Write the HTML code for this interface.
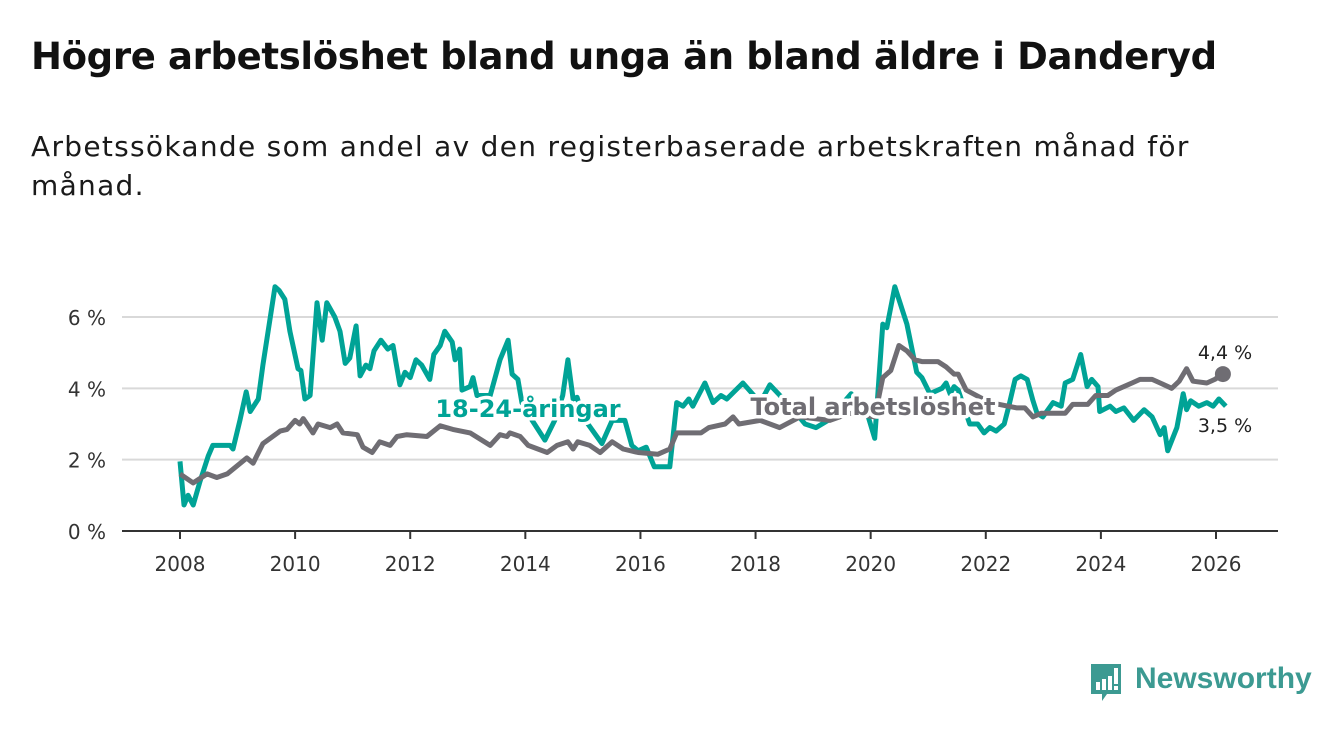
<!DOCTYPE html>
<html><head><meta charset="utf-8"><style>
body{margin:0;background:#fff;width:1340px;height:734px;overflow:hidden;font-family:"DejaVu Sans","Liberation Sans",sans-serif;}
h1{position:absolute;left:31px;top:35px;margin:0;font-size:37px;font-weight:bold;color:#111;letter-spacing:-0.35px;white-space:nowrap}
p.sub{position:absolute;left:31px;top:127px;margin:0;font-size:28px;line-height:39px;color:#1a1a1a;width:1240px;letter-spacing:1.3px}
svg{position:absolute;left:0;top:0}
</style></head><body>
<h1>Högre arbetslöshet bland unga än bland äldre i Danderyd</h1>
<p class="sub">Arbetssökande som andel av den registerbaserade arbetskraften månad för<br>månad.</p>
<svg id="chart" width="1340" height="734"></svg>
<script>
const yTicks=[0,2,4,6];
const xTicks=[2008,2010,2012,2014,2016,2018,2020,2022,2024,2026];
const youthDates=[2008.00,2008.07,2008.14,2008.23,2008.35,2008.49,2008.57,2008.87,2008.92,2009.04,2009.15,2009.22,2009.36,2009.44,2009.65,2009.72,2009.82,2009.91,2010.05,2010.10,2010.17,2010.26,2010.38,2010.47,2010.55,2010.69,2010.78,2010.87,2010.95,2011.06,2011.13,2011.23,2011.30,2011.37,2011.49,2011.61,2011.70,2011.82,2011.91,2012.00,2012.10,2012.20,2012.34,2012.41,2012.52,2012.60,2012.73,2012.78,2012.86,2012.90,2013.04,2013.09,2013.16,2013.39,2013.56,2013.70,2013.77,2013.87,2013.94,2014.08,2014.34,2014.51,2014.65,2014.74,2014.83,2014.90,2015.00,2015.33,2015.51,2015.73,2015.85,2015.96,2016.10,2016.24,2016.51,2016.63,2016.74,2016.84,2016.91,2017.12,2017.26,2017.40,2017.50,2017.78,2018.08,2018.25,2018.60,2018.86,2019.05,2019.26,2019.66,2019.94,2020.07,2020.21,2020.28,2020.42,2020.63,2020.80,2020.89,2021.03,2021.24,2021.31,2021.38,2021.45,2021.52,2021.72,2021.86,2021.97,2022.07,2022.18,2022.32,2022.40,2022.51,2022.61,2022.72,2022.82,2022.89,2022.99,2023.17,2023.31,2023.38,2023.51,2023.65,2023.76,2023.84,2023.95,2023.98,2024.16,2024.26,2024.40,2024.57,2024.75,2024.89,2025.03,2025.10,2025.16,2025.32,2025.43,2025.49,2025.56,2025.70,2025.84,2025.95,2026.05,2026.17];
const youthValues=[1.95,0.73,1.0,0.73,1.4,2.1,2.4,2.4,2.3,3.1,3.9,3.35,3.7,4.65,6.85,6.75,6.5,5.6,4.55,4.5,3.7,3.8,6.4,5.35,6.4,6.0,5.6,4.7,4.85,5.75,4.35,4.65,4.55,5.05,5.35,5.1,5.2,4.1,4.45,4.3,4.8,4.65,4.25,4.95,5.2,5.6,5.3,4.8,5.1,3.95,4.05,4.3,3.8,3.8,4.8,5.35,4.4,4.25,3.6,3.2,2.55,3.1,3.8,4.8,3.7,3.75,3.2,2.45,3.1,3.1,2.4,2.25,2.35,1.8,1.8,3.6,3.5,3.7,3.5,4.15,3.6,3.8,3.7,4.15,3.6,4.1,3.5,3.0,2.9,3.1,3.85,3.3,2.6,5.8,5.7,6.85,5.8,4.45,4.3,3.85,4.0,4.15,3.85,4.05,3.95,3.0,3.0,2.75,2.9,2.8,3.0,3.5,4.25,4.35,4.25,3.65,3.3,3.2,3.6,3.5,4.15,4.25,4.95,4.05,4.25,4.05,3.35,3.5,3.35,3.45,3.1,3.4,3.2,2.7,2.9,2.25,2.9,3.85,3.4,3.65,3.5,3.6,3.5,3.7,3.5];
const totalDates=[2008.00,2008.23,2008.47,2008.64,2008.82,2009.16,2009.27,2009.44,2009.74,2009.86,2010.00,2010.08,2010.14,2010.31,2010.40,2010.61,2010.73,2010.83,2011.08,2011.18,2011.34,2011.47,2011.65,2011.77,2011.94,2012.29,2012.52,2012.74,2013.04,2013.39,2013.56,2013.68,2013.73,2013.91,2014.05,2014.38,2014.55,2014.74,2014.83,2014.91,2015.12,2015.30,2015.51,2015.70,2015.96,2016.30,2016.51,2016.63,2017.05,2017.19,2017.47,2017.61,2017.71,2018.08,2018.42,2018.77,2019.29,2019.64,2020.07,2020.21,2020.35,2020.49,2020.63,2020.77,2020.89,2021.17,2021.31,2021.45,2021.52,2021.66,2022.07,2022.54,2022.68,2022.82,2022.96,2023.10,2023.38,2023.51,2023.77,2023.91,2024.12,2024.26,2024.40,2024.54,2024.68,2024.89,2025.03,2025.23,2025.36,2025.49,2025.60,2025.84,2025.98,2026.12];
const totalValues=[1.6,1.35,1.6,1.5,1.6,2.05,1.9,2.45,2.8,2.85,3.1,3.0,3.15,2.75,3.0,2.9,3.0,2.75,2.7,2.35,2.2,2.5,2.4,2.65,2.7,2.65,2.95,2.85,2.75,2.4,2.7,2.65,2.75,2.65,2.4,2.2,2.4,2.5,2.3,2.5,2.4,2.2,2.5,2.3,2.2,2.15,2.3,2.75,2.75,2.9,3.0,3.2,3.0,3.1,2.9,3.2,3.1,3.3,3.2,4.3,4.5,5.2,5.05,4.8,4.75,4.75,4.6,4.4,4.4,3.95,3.6,3.45,3.45,3.2,3.3,3.3,3.3,3.55,3.55,3.8,3.8,3.95,4.05,4.15,4.25,4.25,4.15,4.0,4.2,4.55,4.2,4.15,4.25,4.4];
const NS='http://www.w3.org/2000/svg';
const svg=document.getElementById('chart');
const x=v=>180+(v-2008)*(1216-180)/18;
const y=v=>531-v*(531-317)/6;
function el(t,a){const e=document.createElementNS(NS,t);for(const k in a)e.setAttribute(k,a[k]);svg.appendChild(e);return e;}
yTicks.forEach(t=>{
 if(t>0){const g=el('line',{x1:122,x2:1278,y1:y(t),y2:y(t),stroke:'#d9d9d9','stroke-width':2});
 
 }
 const l=el('text',{x:106,y:y(t)+8,'text-anchor':'end','font-size':20,fill:'#333'});l.textContent=t+' %';
 
 
});
const ax=el('line',{x1:122,x2:1278,y1:531,y2:531,stroke:'#333','stroke-width':2});


xTicks.forEach(t=>{
 const tk=el('line',{x1:x(t),x2:x(t),y1:531,y2:539,stroke:'#333','stroke-width':2});
 
 
 const l=el('text',{x:x(t),y:571,'text-anchor':'middle','font-size':20,fill:'#333'});l.textContent=t;
 
 
});
function pts(d,v){return d.map((a,i)=>x(a).toFixed(1)+','+y(v[i]).toFixed(1)).join(' ');}
const ly=el('polyline',{points:pts(youthDates,youthValues),fill:'none',stroke:'#00a396','stroke-width':5,'stroke-linejoin':'round'});


const lt=el('polyline',{points:pts(totalDates,totalValues),fill:'none',stroke:'#6f6d73','stroke-width':5,'stroke-linejoin':'round'});


const dot=el('circle',{cx:x(totalDates[totalDates.length-1]),cy:y(totalValues[totalValues.length-1]),r:8,fill:'#6f6d73'});


function lab(txt,xx,yy,col,name,anchor,size,bold){const t=el('text',{x:xx,y:yy,'text-anchor':anchor,'font-size':size,'font-weight':bold?'bold':'normal',fill:col,stroke:'#fff','stroke-width':bold?7:5,'paint-order':'stroke','stroke-linejoin':'round'});t.textContent=txt;
 
 }
lab('18-24-åringar',528,417,'#00a396','youth-series-label','middle',24,true);
lab('Total arbetslöshet',873,415,'#6f6d73','total-series-label','middle',24,true);
lab('4,4 %',1225,359,'#222','total-end-value','middle',19,false);
lab('3,5 %',1225,432,'#222','youth-end-value','middle',19,false);
</script>
<div style="position:absolute;left:1089px;top:662px;width:220px;height:44px">
<svg width="36" height="44" style="position:absolute;left:0;top:0">
<path d="M2 2h30v30h-14l-5 7v-7H2z" fill="#3c9a92"/>
<rect x="7" y="20" width="4" height="8" fill="#fff"/><rect x="13" y="17" width="4" height="11" fill="#fff"/><rect x="19" y="14" width="4" height="14" fill="#fff"/><rect x="25" y="6" width="4" height="16" fill="#fff"/><rect x="25" y="24" width="4" height="4" fill="#fff"/>
</svg>
<span style="position:absolute;left:46px;top:0;font-family:'Liberation Sans',sans-serif;font-size:30px;font-weight:bold;color:#3c9a92;line-height:34px">Newsworthy</span>
</div>
</body></html>
